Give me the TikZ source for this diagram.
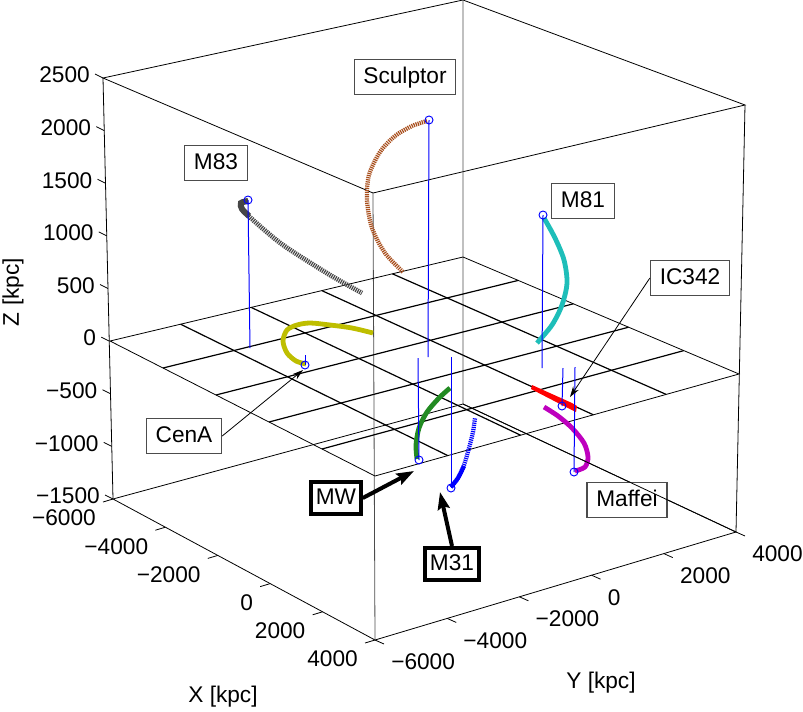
\documentclass[tikz,border=0pt]{standalone}
\usepackage{fontspec}
\setmainfont{Liberation Sans}
\usetikzlibrary{calc,arrows.meta}
\definecolor{sclcol}{RGB}{168,78,28}
\definecolor{m83col}{RGB}{70,70,70}
\definecolor{m81col}{RGB}{30,190,185}
\definecolor{cenacol}{RGB}{190,190,0}
\definecolor{mwcol}{RGB}{34,139,34}
\definecolor{mafcol}{RGB}{190,0,190}
\begin{document}
\begin{tikzpicture}[x=0.75pt, y=-0.75pt, font=\fontsize{17}{20}\selectfont,
    edgeline/.style={black, line width=0.6pt},
    backline/.style={black!70, line width=0.6pt},
    gridline/.style={black, line width=0.9pt},
    stem/.style={blue, line width=0.75pt},
    ring/.style={blue, line width=0.7pt},
    trail/.style={line width=3.6pt, line cap=butt},
    hatch/.style={trail, dash pattern=on 0.9pt off 0.7pt},
    lbl/.style={draw=black!70, fill=white, line width=0.8pt, inner xsep=7pt, inner ysep=5pt, text height=12.5pt, text depth=3.5pt},
    bold lbl/.style={draw=black, fill=white, line width=3pt, inner xsep=3.5pt, inner ysep=4pt, text height=12.5pt, text depth=3.5pt},
    tick/.style={black, line width=0.6pt}]
  \path[use as bounding box] (0,0) rectangle (803,711);
  %box corners
  \coordinate (Lt) at (103,78);
  \coordinate (Bt) at (463,0);
  \coordinate (Rt) at (745,105);
  \coordinate (Ft) at (373,193);
  \coordinate (Lb) at (113,499);
  \coordinate (Bb) at (463,404);
  \coordinate (Rb) at (736,532);
  \coordinate (Fb) at (375,640);
  %plane z=0
  \coordinate (L0) at (110,341);
  \coordinate (B0) at (463,257);
  \coordinate (R0) at (739,374);
  \coordinate (F0) at (375,476);
  %box
  \draw[edgeline] (Lt) -- (Bt) -- (Rt) -- (Ft) -- cycle;
  \draw[edgeline] (Lb) -- (Bb) -- (Rb) -- (Fb) -- cycle;
  \draw[edgeline] (Lt) -- (Lb) (Rt) -- (Rb);
  \draw[backline] (Bt) -- (Bb) (Ft) -- (Fb);
  \draw[edgeline] (L0) -- (B0) -- (R0) -- (F0) -- cycle;
  \foreach \i in {1,...,4}{
    \draw[gridline] ($(L0)!\i/5!(F0)$) -- ($(B0)!\i/5!(R0)$);
    \draw[gridline] ($(L0)!\i/5!(B0)$) -- ($(F0)!\i/5!(R0)$);
  }
  %ticks
  \foreach \k/\t in {0/2500,1/2000,2/1500,3/1000,4/500,5/0,6/−500,7/−1000,8/−1500}{
    \coordinate (zt\k) at ($(Lt)!\k/8!(Lb)$);
    \draw[tick] (zt\k) -- ++(-8,-4);
    \node[anchor=east, inner sep=0pt] (zl\k) at ($(zt\k)+(-13,-3)$) {\t};
  }
  \foreach \k/\t in {0/−6000,1/−4000,2/−2000,3/0,4/2000,5/4000}{
    \coordinate (xt\k) at ($(Lb)!\k/5!(Fb)$);
    \draw[tick] (xt\k) -- ++(-10,3);
    \node[anchor=east, inner sep=0pt] (xl\k) at ($(xt\k)+(-17,19)$) {\t};
    \coordinate (yt\k) at ($(Fb)!\k/5!(Rb)$);
    \draw[tick] (yt\k) -- ++(9,4);
  }
  \foreach \k/\t in {0/−6000,1/−4000,2/−2000,3/0,4/2000,5/4000}
    \node[anchor=west, inner sep=0pt] (yl\k) at ($(yt\k)+(16,22)$) {\t};
  \node[rotate=90] (zlab) at (13,292) {Z [kpc]};
  \node (xlab) at (223,697) {X [kpc]};
  \node (ylab) at (601,683) {Y [kpc]};
  %galaxies
  \coordinate (m83) at (248,200);   \coordinate (m83s) at (250,348);
  \coordinate (scl) at (429,120);   \coordinate (scls) at (428,357);
  \coordinate (m81) at (543,215);   \coordinate (m81s) at (542,368);
  \coordinate (cena) at (305,365);  \coordinate (cenas) at (305,355);
  \coordinate (mw) at (419,460);    \coordinate (mws) at (418,358);
  \coordinate (m31) at (451,488);   \coordinate (m31s) at (451,357);
  \coordinate (ic) at (562,406);    \coordinate (ics) at (563,368);
  \coordinate (maf) at (574,472);   \coordinate (mafs) at (575,367);
  %trails
  \draw[hatch, m83col] plot[smooth] coordinates {(248,201) (241,203) (242,209) (253,220) (283,245) (330,275) (362,293)};
  \draw[trail, m83col, line width=4.5pt] plot[smooth] coordinates {(248,201) (241,203) (242,209) (249,216)};
  \draw[hatch, sclcol, line width=3.2pt] plot[smooth] coordinates {(427,121) (412,126) (395,136) (380,152) (369,175) (367,200) (372,228) (385,253) (403,272)};
  \draw[trail, m81col] plot[smooth] coordinates {(544,218) (555,238) (564,260) (567,283) (562,305) (552,325) (537,343)};
  \draw[trail, cenacol] plot[smooth] coordinates {(306,364) (296,361) (287,353) (283,341) (287,330) (297,325) (310,323) (330,325) (352,328) (373,333)};
  \draw[trail, mwcol] plot[smooth] coordinates {(417,459) (416,445) (419,428) (427,412) (439,398) (450,388)};
  \draw[hatch, blue, line width=3.2pt] plot[smooth] coordinates {(451,487) (458,478) (464,465) (469,448) (473,432) (475,418)};
  \draw[trail, blue, line width=3.2pt] plot[smooth] coordinates {(451,487) (458,478) (464,466)};
  \draw[trail, mafcol] plot[smooth] coordinates {(575,471) (585,467) (588,457) (584,443) (572,428) (558,416) (544,407)};
  \fill[red] (532,385) -- (572,403) -- (577,406) -- (576,412) -- (560,404) -- (531,389) -- cycle;
  %stems
  \foreach \g in {m83,scl,m81,cena,mw,m31,ic,maf}{
    \draw[stem] (\g) -- (\g s);
    \draw[ring] (\g) circle[radius=3pt];
  }
  %labels
  \node[lbl] (scllbl) at (405,77) {Sculptor};
  \node[lbl] (m83lbl) at (216,163) {M83};
  \node[lbl] (m81lbl) at (583,201) {M81};
  \node[lbl] (iclbl) at (690,278) {IC342};
  \node[lbl] (cenalbl) at (184,436) {CenA};
  \node[lbl] (maflbl) at (627,500) {Maffei};
  \node[bold lbl] (mwlbl) at (336,498) {MW};
  \node[bold lbl] (m31lbl) at (452,564) {M31};
  \draw[edgeline] (Bb) -- (Rb);
  %arrows
  \coordinate (cenatip) at (303,370);
  \coordinate (ictip) at (570,397);
  \coordinate (mwtip) at (414,471);
  \coordinate (m31tip) at (440,492);
  \path[-{Stealth[length=8pt,width=5pt]}, line width=0.6pt]
    (cenalbl.east) edge (cenatip)
    (iclbl.west) edge (ictip);
  \path[-{Stealth[length=13pt,width=9pt,inset=2pt]}, line width=3pt]
    (mwlbl.east) edge (mwtip)
    (m31lbl.north) edge (m31tip);
\end{tikzpicture}
\end{document}
